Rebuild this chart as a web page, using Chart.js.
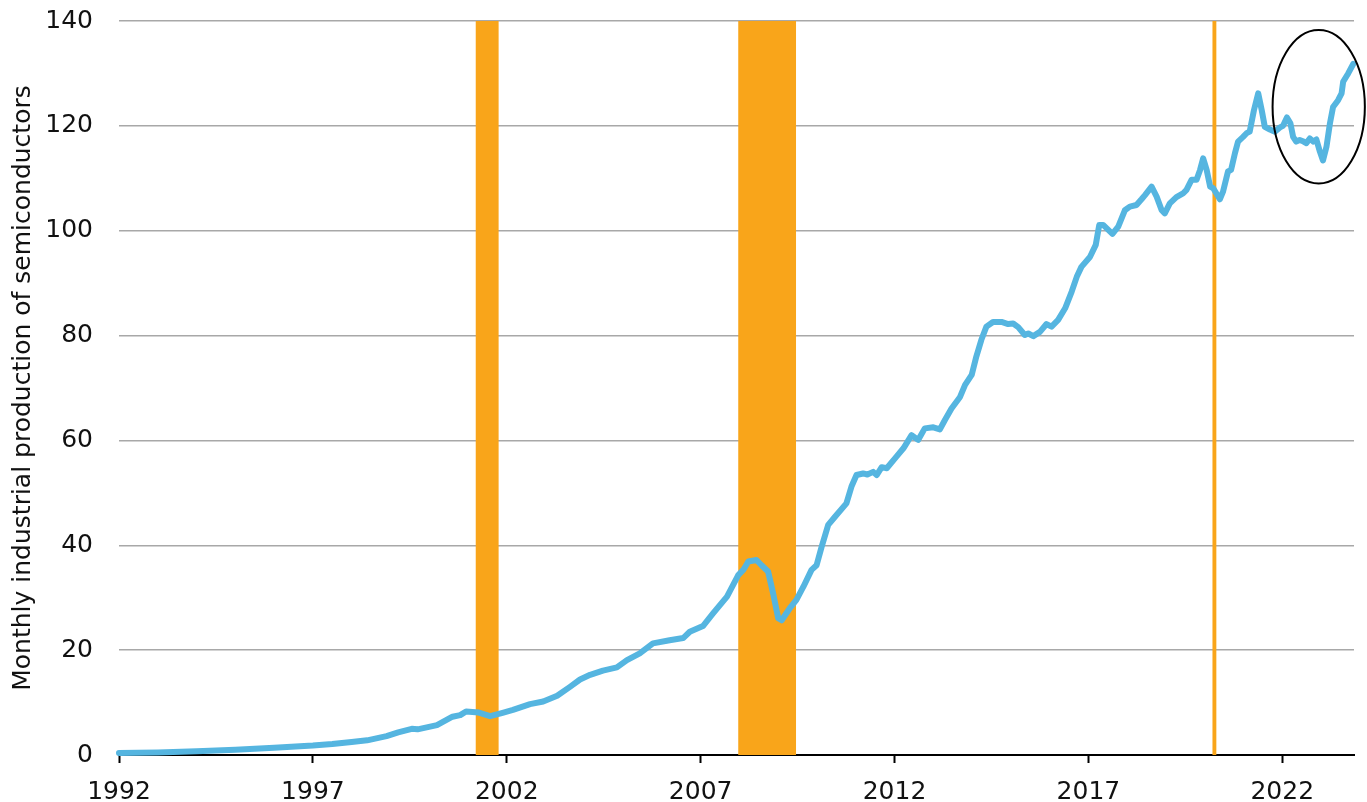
<!DOCTYPE html>
<html>
<head>
<meta charset="utf-8">
<script src="https://cdn.jsdelivr.net/npm/chart.js@4.4.0/dist/chart.umd.min.js"></script>
<style>
  body { margin: 0; background: #fff; }
  canvas { display: block; }
</style>
</head>
<body>
<canvas id="myChart" width="1367" height="802"></canvas>
<script>
// decimal years and index values
const dates = [
  1992.0, 1993.0, 1994.0, 1995.0, 1996.0, 1997.0, 1997.5, 1998.0, 1998.4, 1998.9,
  1999.2, 1999.55, 1999.7, 2000.2, 2000.6, 2000.8, 2000.95, 2001.28, 2001.57, 2001.87,
  2002.16, 2002.6, 2002.94, 2003.3, 2003.63, 2003.89, 2004.15, 2004.48, 2004.84, 2005.1,
  2005.43, 2005.77, 2006.2, 2006.55, 2006.72, 2007.06, 2007.32, 2007.68, 2007.97, 2008.1,
  2008.23, 2008.44, 2008.57, 2008.74, 2008.87, 2009.0, 2009.09, 2009.3, 2009.47, 2009.65,
  2009.86, 2009.99, 2010.12, 2010.29, 2010.46, 2010.76, 2010.89, 2011.02, 2011.19, 2011.3,
  2011.45, 2011.54, 2011.67, 2011.8, 2012.05, 2012.23, 2012.44, 2012.61, 2012.78, 2013.0,
  2013.17, 2013.3, 2013.47, 2013.69, 2013.82, 2013.99, 2014.11, 2014.24, 2014.37, 2014.54,
  2014.76, 2014.93, 2015.06, 2015.19, 2015.36, 2015.45, 2015.58, 2015.75, 2015.92, 2016.05,
  2016.22, 2016.4, 2016.57, 2016.7, 2016.82, 2017.04, 2017.19, 2017.28, 2017.38, 2017.62,
  2017.77, 2017.94, 2018.07, 2018.24, 2018.37, 2018.46, 2018.63, 2018.76, 2018.89, 2018.97,
  2019.1, 2019.27, 2019.44, 2019.53, 2019.66, 2019.79, 2019.88, 2019.96, 2020.05, 2020.14,
  2020.22, 2020.39, 2020.47, 2020.6, 2020.68, 2020.78, 2020.86, 2020.99, 2021.08, 2021.16,
  2021.27, 2021.38, 2021.47, 2021.55, 2021.68, 2021.81, 2021.94, 2022.02, 2022.12, 2022.21,
  2022.28, 2022.36, 2022.45, 2022.55, 2022.62, 2022.71, 2022.8, 2022.88, 2022.97, 2023.05,
  2023.14, 2023.23, 2023.31, 2023.44, 2023.53, 2023.57, 2023.7, 2023.83
];
const production = [
  0.4, 0.5, 0.7, 1.0, 1.4, 1.8, 2.1, 2.5, 2.8, 3.6,
  4.3, 5.0, 4.9, 5.7, 7.3, 7.6, 8.3, 8.1, 7.4, 8.0,
  8.6, 9.7, 10.2, 11.3, 13.0, 14.4, 15.3, 16.1, 16.7, 18.1,
  19.4, 21.3, 21.9, 22.3, 23.5, 24.6, 27.0, 30.2, 34.3, 35.3,
  36.9, 37.2, 36.2, 35.0, 30.8, 26.1, 25.7, 28.0, 29.6, 32.1,
  35.3, 36.2, 39.7, 43.9, 45.4, 48.0, 51.2, 53.4, 53.7, 53.5,
  54.0, 53.4, 54.9, 54.7, 56.9, 58.5, 61.0, 60.1, 62.3, 62.5,
  62.1, 63.9, 66.1, 68.3, 70.6, 72.5, 76.0, 79.2, 81.7, 82.6,
  82.6, 82.2, 82.3, 81.6, 80.1, 80.4, 79.9, 80.7, 82.2, 81.7,
  83.0, 85.2, 88.4, 91.2, 93.1, 95.0, 97.3, 101.1, 101.1, 99.4,
  100.8, 103.9, 104.6, 104.9, 106.0, 106.8, 108.4, 106.5, 103.9, 103.3,
  105.2, 106.4, 107.1, 107.8, 109.7, 109.7, 111.6, 113.8, 111.6, 108.4,
  108.1, 106.0, 107.4, 111.3, 111.6, 114.8, 117.0, 117.9, 118.6, 118.9,
  123.0, 126.2, 123.0, 119.8, 119.3, 118.9, 119.7, 120.0, 121.6, 120.5,
  117.9, 117.0, 117.3, 117.0, 116.7, 117.6, 117.0, 117.4, 115.1, 113.4,
  116.0, 120.5, 123.6, 124.9, 126.2, 128.4, 130.0, 131.8
];
const yearTicks = [1992, 1997, 2002, 2007, 2012, 2017, 2022];
// recessions: [start, end] in decimal years
const recessions = [[2001.2, 2001.79], [2007.97, 2009.46], [2020.2, 2020.3]];
// circled area: centre year, centre value, half width (years), half height (value)
const highlight = [2022.94, 123.65, 1.19, 14.63];

const FONT = "'DejaVu Sans', sans-serif";

const bandsPlugin = {
  id: 'bands',
  beforeDatasetsDraw(chart) {
    const {ctx, scales: {x, y}} = chart;
    ctx.save();
    ctx.fillStyle = '#f9a51a';
    recessions.forEach(r => {
      const x0 = x.getPixelForValue(r[0]);
      const x1 = x.getPixelForValue(r[1]);
      const top = y.getPixelForValue(140);
      const bot = y.getPixelForValue(0);
      ctx.fillRect(x0, top, x1 - x0, bot - top);
    });
    ctx.restore();
  },
  afterDatasetsDraw(chart) {
    const {ctx, scales: {x, y}} = chart;
    const cx = x.getPixelForValue(highlight[0]);
    const cy = y.getPixelForValue(highlight[1]);
    const rx = x.getPixelForValue(highlight[0] + highlight[2]) - cx;
    const ry = cy - y.getPixelForValue(highlight[1] + highlight[3]);
    ctx.save();
    ctx.strokeStyle = '#000';
    ctx.lineWidth = 2;
    ctx.beginPath();
    ctx.ellipse(cx, cy, rx, ry, 0, 0, Math.PI * 2);
    ctx.stroke();
    ctx.restore();
  }
};

const ctx = document.getElementById('myChart');

new Chart(ctx, {
  type: 'line',
  data: {
    datasets: [{
      label: 'Semiconductors',
      data: dates.map((d, i) => ({x: d, y: production[i]})),
      borderColor: '#55b5e0',
      borderWidth: 6,
      pointRadius: 0,
      tension: 0,
      borderJoinStyle: 'round',
      borderCapStyle: 'round',
      clip: false
    }]
  },
  options: {
    responsive: false,
    animation: false,
    layout: { padding: { top: 21, right: 13, left: 0, bottom: 0 } },
    plugins: { legend: { display: false }, tooltip: { enabled: false } },
    scales: {
      x: {
        type: 'linear',
        min: 1992,
        max: 2023.85,
        afterBuildTicks: scale => { scale.ticks = yearTicks.map(v => ({value: v})); },
        afterFit: scale => { scale.height = 47; },
        grid: { drawOnChartArea: false, drawTicks: true, tickLength: 8, tickColor: '#000', tickWidth: 2 },
        border: { display: true, color: '#000', width: 2 },
        ticks: { color: '#111', font: { family: FONT, size: 25 }, padding: 14, maxRotation: 0,
                 callback: v => String(v) }
      },
      y: {
        min: 0,
        max: 140,
        afterFit: scale => {
          scale.width = 119;
          scale.paddingTop = 0;
          scale.paddingBottom = 0;
        },
        grid: { color: '#a8a8a8', lineWidth: 1.5, drawTicks: false },
        border: { display: false },
        ticks: { stepSize: 20, color: '#111', font: { family: FONT, size: 25 }, padding: 26 },
        title: {
          display: true,
          text: 'Monthly industrial production of semiconductors',
          color: '#111',
          font: { family: FONT, size: 25 },
          padding: { top: 8, bottom: 0 }
        }
      }
    }
  },
  plugins: [bandsPlugin]
});
</script>
</body>
</html>
